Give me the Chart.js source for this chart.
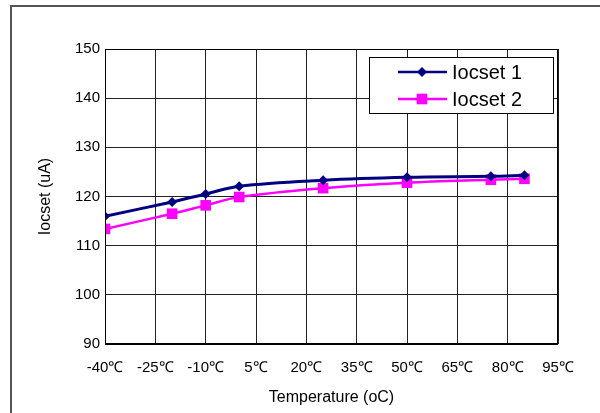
<!DOCTYPE html>
<html>
<head>
<meta charset="utf-8">
<script src="https://cdn.jsdelivr.net/npm/chart.js@4"></script>
<style>
    html, body { margin: 0; padding: 0; background: #fff; }
    #wrap { width: 600px; height: 413px; position: relative; }
</style>
</head>
<body>
<div id="wrap"><canvas id="chart"></canvas></div>
<script>
// ===== Iocset vs Temperature =====

const temperatures = [-40, -20, -10, 0, 25, 50, 75, 85];
const iocset1 = [116.0, 118.9, 120.5, 122.1, 123.3, 123.9, 124.1, 124.3];
const iocset2 = [113.4, 116.5, 118.2, 119.9, 121.7, 122.8, 123.4, 123.6];
const seriesNames = ['Iocset 1', 'Iocset 2'];
const xTicks = [-40, -25, -10, 5, 20, 35, 50, 65, 80, 95];
const yTicks = [90, 100, 110, 120, 130, 140, 150];

const FONT = 'Arial, "Liberation Sans", sans-serif';

// outer frame + plot border + legend box, drawn like the Excel sheet
const framePlugin = {
    id: 'frame',
    beforeDraw(chart) {
        const ctx = chart.ctx;
        ctx.save();
        ctx.strokeStyle = '#555';
        ctx.lineWidth = 2;
        ctx.beginPath();
        ctx.moveTo(11, 413);
        ctx.lineTo(11, 6);
        ctx.lineTo(600, 6);
        ctx.stroke();
        ctx.restore();
    },
    afterDatasetsDraw(chart) {
        const { ctx, chartArea: a } = chart;
        ctx.save();
        ctx.strokeStyle = '#000';
        ctx.lineWidth = 1;
        ctx.strokeRect(a.left + 0.5, a.top + 0.5, a.right - a.left - 1, a.bottom - a.top);
        ctx.lineWidth = 2;
        ctx.beginPath();
        ctx.moveTo(a.left, a.bottom);
        ctx.lineTo(a.right, a.bottom);
        ctx.stroke();

        // legend
        const bx = 369, by = 57, bw = 184, bh = 56;
        ctx.fillStyle = '#fff';
        ctx.fillRect(bx, by, bw, bh);
        ctx.lineWidth = 1;
        ctx.strokeStyle = '#000';
        ctx.strokeRect(bx + 0.5, by + 0.5, bw, bh);
        const rows = [72, 99];
        chart.data.datasets.forEach((ds, i) => {
            const y = rows[i];
            ctx.strokeStyle = ds.borderColor;
            ctx.lineWidth = 2.5;
            ctx.beginPath();
            ctx.moveTo(398, y);
            ctx.lineTo(447, y);
            ctx.stroke();
            ctx.fillStyle = ds.pointBackgroundColor;
            Chart.helpers.drawPoint(ctx, {
                pointStyle: ds.pointStyle, radius: ds.pointRadius, borderWidth: 0, rotation: 0
            }, 422, y);
            ctx.fillStyle = '#000';
            ctx.font = '20px ' + FONT;
            ctx.textBaseline = 'middle';
            ctx.fillText(ds.label, 452, y + 1);
        });
        ctx.restore();
    }
};

new Chart(document.getElementById('chart'), {
    type: 'line',
    data: {
        datasets: [{
            label: seriesNames[0],
            data: temperatures.map((t, i) => ({ x: t, y: iocset1[i] })),
            borderColor: '#000080',
            backgroundColor: '#000080',
            pointBackgroundColor: '#000080',
            pointBorderWidth: 0,
            pointStyle: 'rectRot',
            pointRadius: 5,
            borderWidth: 3,
            tension: 0.35
        }, {
            label: seriesNames[1],
            data: temperatures.map((t, i) => ({ x: t, y: iocset2[i] })),
            borderColor: '#FF00FF',
            backgroundColor: '#FF00FF',
            pointBackgroundColor: '#FF00FF',
            pointBorderWidth: 0,
            pointStyle: 'rect',
            pointRadius: 7.5,
            borderWidth: 2.5,
            tension: 0.35
        }]
    },
    options: {
        responsive: true,
        maintainAspectRatio: false,
        animation: false,
        events: [],
        layout: { padding: { left: 0, top: 49, right: 42, bottom: 0 } },
        plugins: { legend: { display: false }, tooltip: { enabled: false } },
        scales: {
            x: {
                type: 'linear',
                min: -40,
                max: 95,
                afterBuildTicks: s => { s.ticks = xTicks.map(v => ({ value: v })); },
                afterFit: s => { s.height = 69; },
                border: { display: false },
                grid: { color: '#222', lineWidth: 1, drawTicks: false },
                ticks: {
                    padding: 15,
                    color: '#000',
                    font: { family: FONT, size: 15 },
                    maxRotation: 0,
                    autoSkip: false,
                    callback: v => v + '℃'
                },
                title: {
                    display: true,
                    text: 'Temperature (oC)',
                    color: '#000',
                    font: { family: FONT, size: 16 },
                    padding: { top: 0, bottom: 6 }
                }
            },
            y: {
                min: 90,
                max: 150,
                afterBuildTicks: s => { s.ticks = yTicks.map(v => ({ value: v })); },
                afterFit: s => { s.width = 105; },
                border: { display: false },
                grid: { color: '#222', lineWidth: 1, drawTicks: false },
                ticks: {
                    padding: 5,
                    color: '#000',
                    font: { family: FONT, size: 15 }
                },
                title: {
                    display: true,
                    text: 'Iocset (uA)',
                    color: '#000',
                    font: { family: FONT, size: 16 },
                    padding: { top: 36, bottom: 0 }
                }
            }
        }
    },
    plugins: [framePlugin]
});
</script>
</body>
</html>
